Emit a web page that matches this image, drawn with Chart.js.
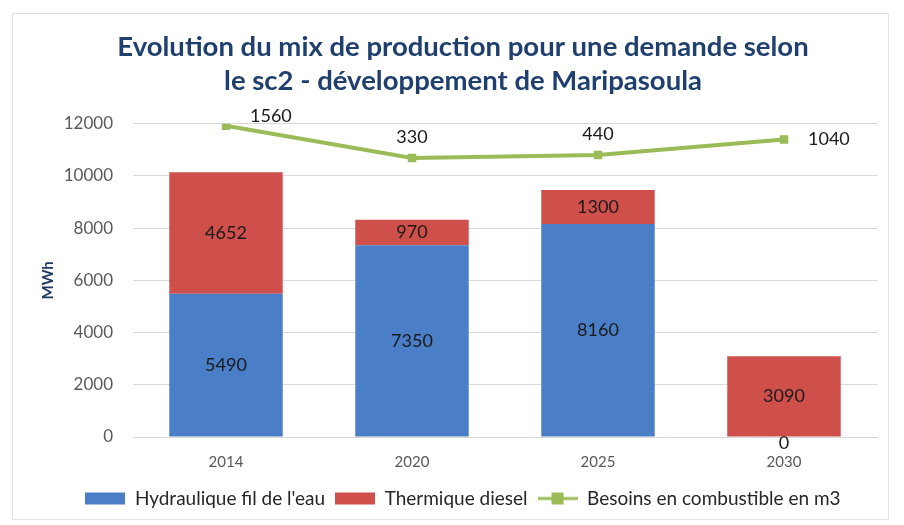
<!DOCTYPE html>
<html>
<head>
<meta charset="utf-8">
<script src="https://cdn.jsdelivr.net/npm/chart.js@4.4.1/dist/chart.umd.min.js"></script>
<style>
  html, body { margin: 0; padding: 0; background: #fff; }
  #wrap { width: 904px; height: 525px; }
</style>
</head>
<body>
<div id="wrap"><canvas id="chart" width="904" height="525"></canvas></div>
<script>
// Data
const years = ['2014', '2020', '2025', '2030'];
const hydraulique = [5490, 7350, 8160, 0];
const thermique = [4652, 970, 1300, 3090];
const combustible = [1560, 330, 440, 1040];
const yTicks = [0, 2000, 4000, 6000, 8000, 10000, 12000];

const FONT = 'Lato, "Liberation Sans", sans-serif';
const BLUE = '#4a7ec6';
const RED = '#cf4f4b';
const GREEN = '#9bbb59';

// where the line labels sit relative to their point
const lineLabelPos = ['right', 'top', 'top', 'right'];

function legendIcon(kind, color) {
    const c = document.createElement('canvas');
    c.width = 40; c.height = 14;
    const g = c.getContext('2d');
    if (kind === 'box') {
        g.fillStyle = color;
        g.fillRect(0, 1, 40, 12);
    } else {
        g.strokeStyle = color;
        g.lineWidth = 3;
        g.beginPath(); g.moveTo(0, 7); g.lineTo(40, 7); g.stroke();
        g.fillStyle = color;
        g.fillRect(14, 1, 12, 12);
    }
    return c;
}

const icons = [legendIcon('box', BLUE), legendIcon('box', RED), legendIcon('line', GREEN)];

const frame = {
    id: 'frame',
    beforeDraw(chart) {
        const ctx = chart.ctx;
        ctx.save();
        ctx.fillStyle = '#fff';
        ctx.fillRect(0, 0, chart.width, chart.height);
        ctx.strokeStyle = '#e2e2e2';
        ctx.lineWidth = 1;
        ctx.strokeRect(12.5, 13.5, 876, 506);
        ctx.restore();
    }
};

const valueLabels = {
    id: 'valueLabels',
    afterDatasetsDraw(chart) {
        const ctx = chart.ctx;
        ctx.save();
        ctx.font = '18px ' + FONT;
        ctx.fillStyle = '#1a1a1a';
        ctx.textBaseline = 'middle';
        chart.data.datasets.forEach((ds, di) => {
            const meta = chart.getDatasetMeta(di);
            meta.data.forEach((el, i) => {
                const v = ds.data[i];
                if (ds.type === 'line') {
                    if (lineLabelPos[i] === 'right') {
                        ctx.textAlign = 'left';
                        ctx.fillText(String(v), el.x + 24, el.y - (i === 0 ? 10 : 0));
                    } else {
                        ctx.textAlign = 'center';
                        ctx.fillText(String(v), el.x, el.y - 21);
                    }
                } else {
                    ctx.textAlign = 'center';
                    const y = v === 0 ? el.base + 6 : (el.y + el.base) / 2;
                    ctx.fillText(String(v), el.x, y);
                }
            });
        });
        ctx.restore();
    }
};

new Chart(document.getElementById('chart'), {
    data: {
        labels: years,
        datasets: [
            {
                type: 'bar',
                label: 'Hydraulique fil de l\'eau',
                data: hydraulique,
                backgroundColor: BLUE,
                stack: 's',
                order: 2
            },
            {
                type: 'bar',
                label: 'Thermique diesel',
                data: thermique,
                backgroundColor: RED,
                stack: 's',
                order: 2
            },
            {
                type: 'line',
                label: 'Besoins en combustible en m3',
                data: combustible,
                borderColor: GREEN,
                backgroundColor: GREEN,
                borderWidth: 4,
                pointStyle: 'rect',
                pointRadius: 6,
                pointBackgroundColor: GREEN,
                pointBorderWidth: 0,
                tension: 0,
                yAxisID: 'y1',
                order: 1
            }
        ]
    },
    options: {
        responsive: false,
        animation: false,
        layout: { padding: { left: 49, right: 27, top: 30, bottom: 7 } },
        datasets: {
            bar: { barPercentage: 0.61, categoryPercentage: 1 }
        },
        scales: {
            x: {
                stacked: true,
                grid: { display: false },
                border: { display: true, color: '#d9d9d9' },
                ticks: { color: '#595959', font: { family: FONT, size: 15 }, padding: 8 }
            },
            y: {
                stacked: true,
                min: 0,
                max: 12000,
                afterBuildTicks(scale) { scale.ticks = yTicks.map(v => ({ value: v })); },
                afterFit(scale) { scale.width = 84; },
                grid: { color: '#d9d9d9', drawTicks: false },
                border: { display: false },
                ticks: {
                    color: '#595959',
                    font: { family: FONT, size: 17 },
                    padding: 20,
                    callback: v => String(v)
                },
                title: {
                    display: true,
                    text: 'MWh',
                    color: '#1f3a64',
                    font: { family: FONT, size: 15, weight: 'bold' },
                    padding: { top: -10, bottom: 0 }
                }
            },
            y1: {
                display: false,
                min: -10360,
                max: 1640
            }
        },
        plugins: {
            title: {
                display: true,
                text: ['Evolution du mix de production pour une demande selon', 'le sc2 - développement de Maripasoula'],
                color: '#1f3f6e',
                font: { family: FONT, size: 27.5, weight: 'bold', lineHeight: 1.25 },
                padding: { top: 0, bottom: 25 }
            },
            legend: {
                position: 'bottom',
                labels: {
                    usePointStyle: true,
                    pointStyleWidth: 40,
                    boxHeight: 14,
                    padding: 10,
                    color: '#262626',
                    font: { family: FONT, size: 19 },
                    generateLabels(chart) {
                        return chart.data.datasets.map((ds, i) => ({
                            text: ds.label,
                            pointStyle: icons[i],
                            fillStyle: ds.backgroundColor,
                            strokeStyle: ds.backgroundColor,
                            lineWidth: 0,
                            hidden: false,
                            datasetIndex: i,
                            fontColor: '#262626'
                        }));
                    }
                }
            },
            tooltip: { enabled: false }
        }
    },
    plugins: [frame, valueLabels]
});
</script>
</body>
</html>
